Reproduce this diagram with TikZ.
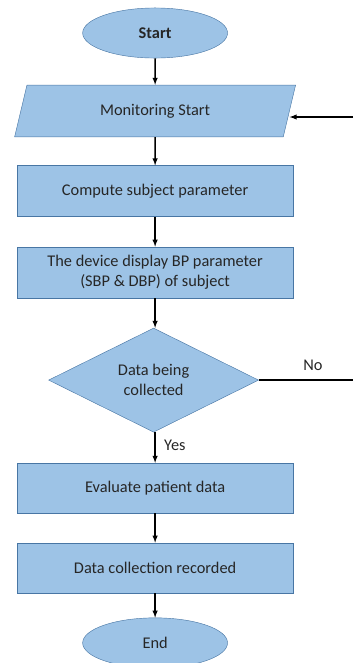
\documentclass[tikz,border=0pt]{standalone}
\usepackage{fontspec}
\setmainfont{Carlito}
\definecolor{boxblue}{RGB}{157,195,230}
\definecolor{edgeblue}{RGB}{72,118,164}
\usepackage{tikz}
\usetikzlibrary{shapes,arrows,positioning}

\begin{document}
\begin{tikzpicture}[
    term/.style={ellipse, draw=edgeblue, fill=boxblue, minimum width=4.83cm, minimum height=1.67cm, font=\fontsize{15.5}{18.5}\selectfont, text=black!85},
    io/.style={trapezium, trapezium left angle=75, trapezium right angle=105, trapezium stretches=true, draw=edgeblue, fill=boxblue, minimum width=9.37cm, minimum height=1.73cm, font=\fontsize{15.5}{18.5}\selectfont, text=black!85},
    proc/.style={rectangle, draw=edgeblue, fill=boxblue, minimum width=9.2cm, minimum height=1.7cm, align=center, font=\fontsize{15.5}{18.5}\selectfont, text=black!85},
    dec/.style={diamond, aspect=2.02, draw=edgeblue, fill=boxblue, minimum width=7cm, minimum height=3.47cm, inner sep=0pt, align=center, font=\fontsize{15.5}{18.5}\selectfont, text=black!85},
    flow/.style={-latex, line width=1.3pt, black}
]
    \useasboundingbox (0,0) rectangle (11.767,-22.1);

    \node[term, font=\fontsize{15.5}{18.5}\selectfont\bfseries] (start) at (5.17,-1.1) {Start};
    \node[io] (mon) at (5.17,-3.7) {Monitoring Start};
    \node[proc] (comp) at (5.17,-6.37) {Compute subject parameter};
    \node[proc] (disp) at (5.17,-9.08) {The device display BP parameter\\(SBP \& DBP) of subject};
    \node[dec] (chk) at (5.12,-12.67) {Data being\\collected};
    \node[proc, minimum height=1.67cm] (eval) at (5.17,-16.27) {Evaluate patient data};
    \node[proc, minimum height=1.67cm] (rec) at (5.17,-18.93) {Data collection recorded};
    \node[term] (stop) at (5.17,-21.43) {End};

    \coordinate (noend) at (11.767,-12.67);
    \coordinate (backin) at (11.767,-3.9);

    \draw[flow] (start) -- (mon);
    \draw[flow] (mon) -- (comp);
    \draw[flow] (comp) -- (disp);
    \draw[flow] (disp) -- (chk.north -| disp.south);
    \draw[flow] (chk.south -| eval.north) -- (eval);
    \draw[flow] (eval) -- (rec);
    \draw[flow] (rec) -- (stop);
    \draw[line width=1.3pt] (chk.east) -- (noend);
    \draw[flow] (backin) -- (backin -| mon.east);

    \node[font=\fontsize{15.5}{18.5}\selectfont, text=black!85] (no) at (10.43,-12.17) {No};
    \node[font=\fontsize{15.5}{18.5}\selectfont, text=black!85] (yes) at (5.83,-14.83) {Yes};
\end{tikzpicture}
\end{document}
